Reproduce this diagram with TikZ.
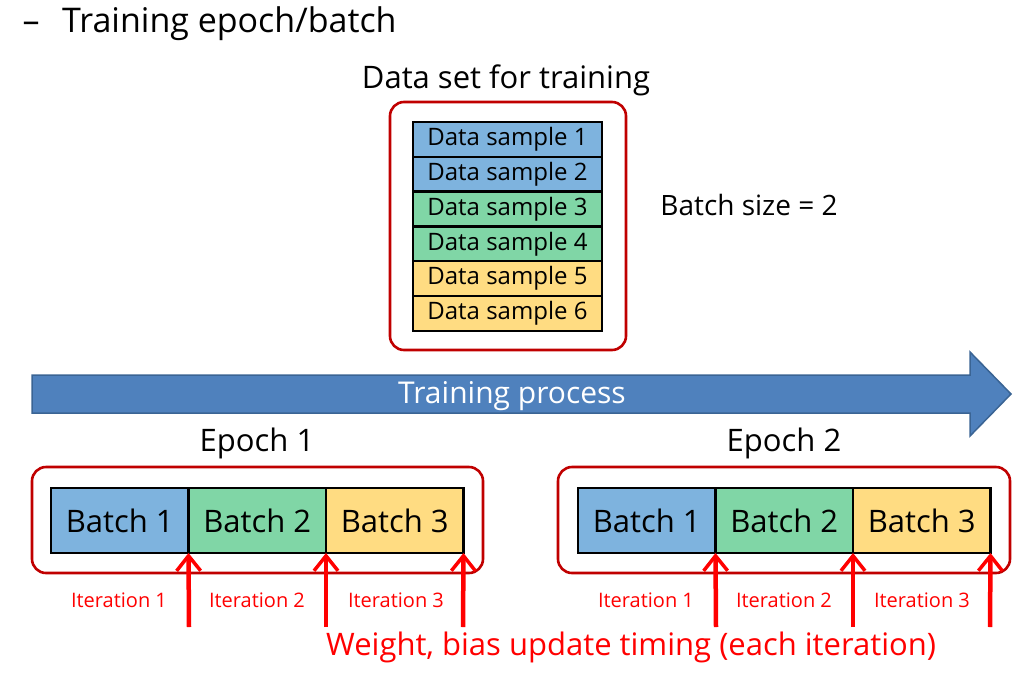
\documentclass[tikz,border=0pt]{standalone}
\usepackage{fontspec}
\setmainfont{Open Sans}
\usetikzlibrary{arrows.meta}
\definecolor{dred}{HTML}{C00000}
\definecolor{cblue}{HTML}{7EB3DE}
\definecolor{cgreen}{HTML}{80D6A6}
\definecolor{cyellow}{HTML}{FFDC82}
\definecolor{pfill}{HTML}{4F81BD}
\definecolor{pline}{HTML}{3A6494}
\definecolor{bred}{HTML}{FF0000}
\tikzset{
  frame/.style={draw=dred, line width=2.6pt, rounded corners=14pt},
  sample/.style={draw=black, line width=2.4pt, minimum width=189pt, minimum height=34.8pt, inner sep=0pt, outer sep=0pt, font=\fontsize{24}{28}\selectfont, anchor=north west},
  batch/.style={draw=black, line width=2.4pt, minimum width=137.5pt, minimum height=65pt, inner sep=0pt, outer sep=0pt, font=\fontsize{31}{36}\selectfont, anchor=north west},
  iter/.style={text=bred, font=\fontsize{20}{24}\selectfont, inner sep=0pt},
  upd/.style={draw=bred, line width=4.5pt, -{Straight Barb[length=15pt,width=24pt,line width=3.5pt]}},
  lbl/.style={font=\fontsize{31}{36}\selectfont, inner sep=0pt},
}
\begin{document}
\begin{tikzpicture}[x=1pt,y=-1pt]
\useasboundingbox (0,0) rectangle (1020,675);
% title
\node[anchor=base, font=\fontsize{34}{40}\selectfont, inner sep=0pt] (dash) at (31,32) {–};
\node[anchor=base west, font=\fontsize{34}{40}\selectfont, inner sep=0pt] (title) at (62,32) {Training epoch/batch};
% data set
\node[lbl] (dstitle) at (506,80) {Data set for training};
\draw[frame] (390,102) rectangle (626,350);
\node[sample, fill=cblue] (s1) at (413,122) {Data sample 1};
\node[sample, fill=cblue] (s2) at (s1.south west) {Data sample 2};
\node[sample, fill=cgreen] (s3) at (s2.south west) {Data sample 3};
\node[sample, fill=cgreen] (s4) at (s3.south west) {Data sample 4};
\node[sample, fill=cyellow] (s5) at (s4.south west) {Data sample 5};
\node[sample, fill=cyellow] (s6) at (s5.south west) {Data sample 6};
\node[font=\fontsize{28}{33}\selectfont, inner sep=0pt] (bs) at (749,205) {Batch size = 2};
% process arrow
\draw[fill=pfill, draw=pline, line width=1.5pt] (32,375) -- (970,375) -- (970,352) -- (1011,394) -- (970,436) -- (970,413) -- (32,413) -- cycle;
\node[text=white, font=\fontsize{30}{35}\selectfont, inner sep=0pt] (proc) at (512,396) {Training process};
% epochs
\node[lbl] (e1) at (257,443) {Epoch 1};
\node[lbl] (e2) at (784,443) {Epoch 2};
\draw[frame] (32,467) rectangle (483,573);
\draw[frame] (558,467) rectangle (1010,573);
\node[batch, fill=cblue] (a1) at (51,488) {Batch 1};
\node[batch, fill=cgreen] (a2) at (a1.north east) {Batch 2};
\node[batch, fill=cyellow] (a3) at (a2.north east) {Batch 3};
\node[batch, fill=cblue] (c1) at (578,488) {Batch 1};
\node[batch, fill=cgreen] (c2) at (c1.north east) {Batch 2};
\node[batch, fill=cyellow] (c3) at (c2.north east) {Batch 3};
% update arrows
\foreach \n in {a1,a2,a3,c1,c2,c3}{
  \coordinate (\n t) at (\n.south east);
}
\coordinate (a1b) at (189,627); \coordinate (a2b) at (326,627); \coordinate (a3b) at (463,627);
\coordinate (c1b) at (716,627); \coordinate (c2b) at (853,627); \coordinate (c3b) at (990,627);
\foreach \n in {a1,a2,a3,c1,c2,c3}{
  \draw[upd] (\n b) -- (\n t);
}
\node[iter] (i1) at (119,600) {Iteration 1};
\node[iter] (i2) at (257,600) {Iteration 2};
\node[iter] (i3) at (396,600) {Iteration 3};
\node[iter] (j1) at (646,600) {Iteration 1};
\node[iter] (j2) at (784,600) {Iteration 2};
\node[iter] (j3) at (922,600) {Iteration 3};
\node[text=bred, font=\fontsize{31}{36}\selectfont, inner sep=0pt, anchor=west] (wb) at (326,647) {Weight, bias update timing (each iteration)};
\end{tikzpicture}
\end{document}
